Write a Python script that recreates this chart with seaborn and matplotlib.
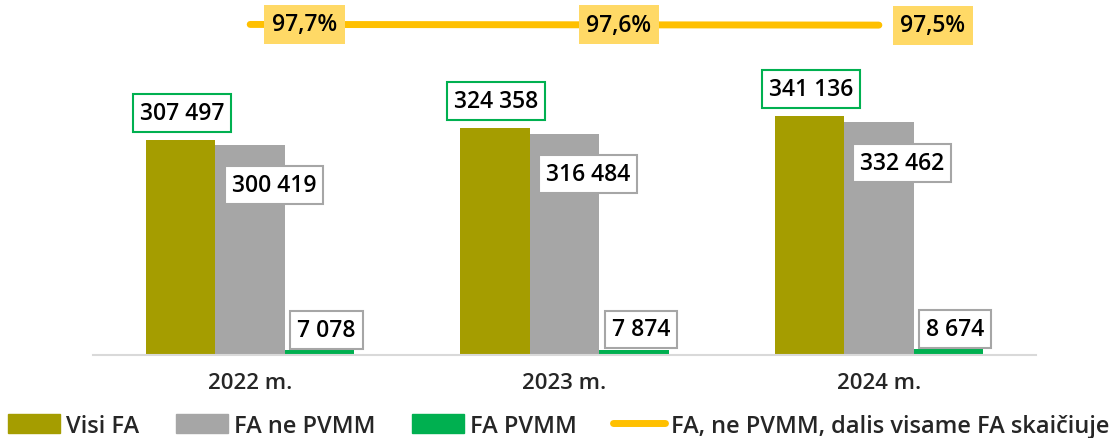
import pandas as pd
import matplotlib
matplotlib.use("Agg")
import matplotlib.pyplot as plt
import seaborn as sns
from matplotlib.patches import Patch
from matplotlib.lines import Line2D

# Data
years = ["2022 m.", "2023 m.", "2024 m."]
visi_fa = [307497, 324358, 341136]
fa_ne_pvmm = [300419, 316484, 332462]
fa_pvmm = [7078, 7874, 8674]
share_pct = [97.7, 97.6, 97.5]

series_names = ["Visi FA", "FA ne PVMM", "FA PVMM"]
line_name = "FA, ne PVMM, dalis visame FA skaičiuje"

colors = {"Visi FA": "#A59D00", "FA ne PVMM": "#A6A6A6", "FA PVMM": "#00B050"}
line_color = "#FFC000"
line_label_fill = "#FFD966"

sns.set_style("white")
plt.rcParams["font.family"] = ["Open Sans", "DejaVu Sans"]
plt.rcParams["font.weight"] = "semibold"

# Long-format table for seaborn
rows = []
for name, vals in zip(series_names, [visi_fa, fa_ne_pvmm, fa_pvmm]):
    for y, v in zip(years, vals):
        rows.append({"year": y, "series": name, "value": v})
df = pd.DataFrame(rows)

fig = plt.figure(figsize=(11.18, 4.39), dpi=100)
ax = fig.add_axes([0.0832, 0.189, 0.8435, 0.797])

sns.barplot(data=df, x="year", y="value", hue="series", order=years,
            hue_order=series_names, palette=colors, width=0.663,
            saturation=1, linewidth=0, ax=ax, legend=False)
ax.set_ylim(0, 500000)
ax.set_xlim(-0.5, 2.5)

def fmt_num(v):
    return f"{v:,}".replace(",", " ")

# label offsets (points) and border colours per series
label_style = {
    "Visi FA": ((1, 19.5), "#00B050"),
    "FA ne PVMM": ((17, -29), "#A6A6A6"),
    "FA PVMM": ((5, 14.5), "#A6A6A6"),
}
for name, container in zip(series_names, ax.containers):
    off, edge = label_style[name]
    for bar in container:
        h = bar.get_height()
        ax.annotate(fmt_num(int(round(h))),
                    xy=(bar.get_x() + bar.get_width() / 2, h),
                    xytext=off, textcoords="offset points",
                    ha="center", va="center", fontsize=16.5, color="black",
                    bbox=dict(boxstyle="square,pad=0.3", fc="white",
                              ec=edge, lw=1.5), zorder=5)

# secondary axis with share line
ax2 = ax.twinx()
sns.pointplot(x=years, y=share_pct, ax=ax2, color=line_color,
              markers="", linestyles="-", lw=5)
for ln in ax2.lines:
    ln.set_solid_capstyle("round")
    ln.set_linewidth(5)
ax2.set_ylim(0, 103.4)
ax2.set_xlim(-0.5, 2.5)
for i, p in enumerate(share_pct):
    ax2.annotate(f"{p:.1f}%".replace(".", ","), xy=(i, p), xytext=(39, 0),
                 textcoords="offset points", ha="center", va="center",
                 fontsize=16.5, color="black",
                 bbox=dict(boxstyle="square,pad=0.33", fc=line_label_fill,
                           ec=line_label_fill, lw=0), zorder=6)
ax2.set_yticks([])
ax2.set_xlabel("")
ax2.set_ylabel("")
for s in ax2.spines.values():
    s.set_visible(False)

# axis styling
ax.set_xlabel("")
ax.set_ylabel("")
ax.set_yticks([])
for s in ["left", "top", "right"]:
    ax.spines[s].set_visible(False)
ax.spines["bottom"].set_color("#D9D9D9")
ax.spines["bottom"].set_linewidth(1.5)
ax.tick_params(axis="x", which="major", length=0, labelsize=16, pad=12)
ax.set_xticks([-0.5, 0.5, 1.5, 2.5], minor=True)
ax.tick_params(axis="x", which="minor", length=8, width=1.5, color="#D9D9D9")

handles = [Patch(color=colors[n]) for n in series_names]
handles.append(Line2D([0], [0], color=line_color, lw=5, solid_capstyle="round"))
fig.legend(handles, series_names + [line_name], loc="lower center",
           bbox_to_anchor=(0.5, -0.048), ncol=4, frameon=False, fontsize=17,
           handlelength=2.2, handleheight=0.9, handletextpad=0.25,
           columnspacing=1.55)

fig.savefig("out.png", dpi=100)
